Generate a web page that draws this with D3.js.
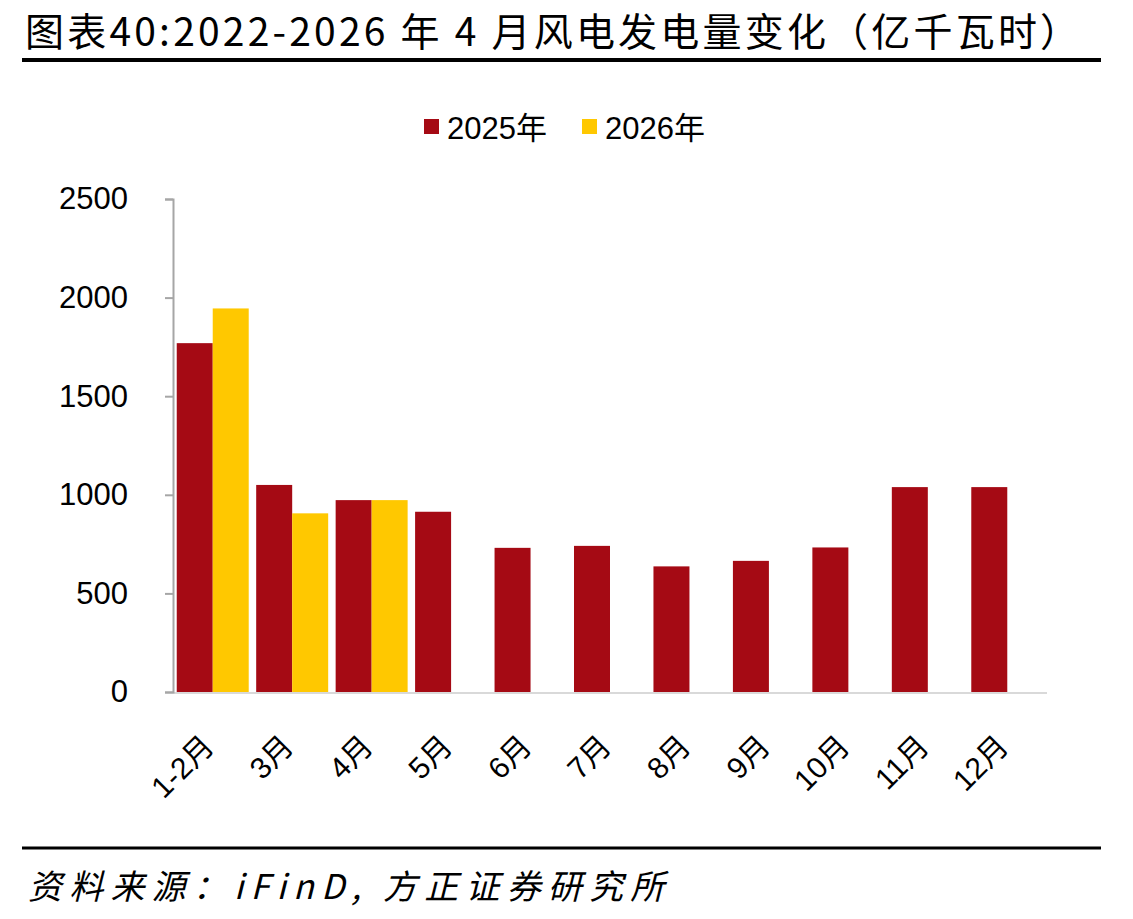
<!DOCTYPE html>
<html>
<head>
<meta charset="utf-8">
<script src="https://cdn.jsdelivr.net/npm/d3@7"></script>
<style>
  html, body { margin: 0; padding: 0; background: #fff; }
  svg { display: block; }
</style>
</head>
<body>
<svg id="chart" width="1133" height="919"></svg>
<script>
const titleText = "图表40:2022-2026 年 4 月风电发电量变化（亿千瓦时）";
const sourceText = "资料来源：iFinD, 方正证券研究所";
const categories = ["1-2月", "3月", "4月", "5月", "6月", "7月", "8月", "9月", "10月", "11月", "12月"];
const seriesNames = ["2025年", "2026年"];
const values2025 = [1769, 1050, 973, 914, 731, 741, 637, 665, 733, 1039, 1039];
const values2026 = [1945, 906, 973, null, null, null, null, null, null, null, null];
const yTicks = [0, 500, 1000, 1500, 2000, 2500];
const colors = ["#A50A14", "#FFC800"];

const svg = d3.select("#chart");

// Title
svg.append("text")
  .attr("x", 25).attr("y", 46)
  .attr("font-family", "'Noto Sans CJK SC', sans-serif")
  .attr("font-size", 39).attr("font-weight", 400)
  .attr("letter-spacing", 3.2)
  .attr("fill", "#000")
  .text(titleText);
svg.append("line")
  .attr("x1", 22).attr("x2", 1101).attr("y1", 60).attr("y2", 60)
  .attr("stroke", "#000").attr("stroke-width", 4);

// Footer
svg.append("line")
  .attr("x1", 22).attr("x2", 1101).attr("y1", 848).attr("y2", 848)
  .attr("stroke", "#000").attr("stroke-width", 3);
svg.append("text")
  .attr("x", 28).attr("y", 899)
  .attr("font-family", "'Noto Sans CJK SC', sans-serif")
  .attr("font-size", 34).attr("font-style", "italic")
  .attr("letter-spacing", 7.2)
  .attr("fill", "#000")
  .text(sourceText);

// Scales
const x0 = d3.scaleBand().domain(categories).range([173, 1047]).paddingInner(0.094).paddingOuter(0.047);
const x1 = d3.scaleBand().domain(seriesNames).range([0, x0.bandwidth()]).padding(0);
const y = d3.scaleLinear().domain([0, 2500]).range([692, 199]);

const data = categories.map((c, i) => ({ cat: c, vals: [values2025[i], values2026[i]] }));

// Bars
const groups = svg.append("g").selectAll("g").data(data).join("g")
  .attr("transform", d => `translate(${x0(d.cat)},0)`);
groups.selectAll("rect")
  .data(d => d.vals.map((v, j) => ({ name: seriesNames[j], v, j })).filter(e => e.v != null))
  .join("rect")
  .attr("x", e => x1(e.name))
  .attr("width", x1.bandwidth())
  .attr("y", e => y(e.v))
  .attr("height", e => y(0) - y(e.v))
  .attr("fill", e => colors[e.j]);

// X axis line
svg.append("line")
  .attr("x1", 173).attr("x2", 1047).attr("y1", y(0) + 1).attr("y2", y(0) + 1)
  .attr("stroke", "#d9d9d9").attr("stroke-width", 2);

// Y axis
const yAxis = d3.axisLeft(y).tickValues(yTicks).tickSize(8).tickPadding(37).tickFormat(d3.format("d"));
const yg = svg.append("g").attr("transform", "translate(173,0)").call(yAxis);
yg.select(".domain").attr("stroke", "#a6a6a6").attr("stroke-width", 2);
yg.selectAll(".tick line").attr("stroke", "#a6a6a6").attr("stroke-width", 2);
yg.selectAll(".tick text")
  .attr("font-family", "'Liberation Sans', Arial, sans-serif")
  .attr("font-size", 31).attr("fill", "#000");

// X labels
svg.append("g").selectAll("text").data(categories).join("text")
  .attr("transform", d => `translate(${x0(d) + x0.bandwidth() / 2 + 3},748) rotate(-45)`)
  .attr("text-anchor", "end")
  .attr("font-family", "'Liberation Sans', 'Noto Sans CJK SC', sans-serif")
  .attr("font-size", 30).attr("fill", "#000")
  .text(d => d);

// Legend
const legend = svg.append("g");
const legendX = [424, 582];
seriesNames.forEach((n, i) => {
  legend.append("rect")
    .attr("x", legendX[i]).attr("y", 119).attr("width", 15).attr("height", 15)
    .attr("fill", colors[i]);
  legend.append("text")
    .attr("x", legendX[i] + 23).attr("y", 139)
    .attr("font-family", "'Liberation Sans', 'Noto Sans CJK SC', sans-serif")
    .attr("font-size", 31).attr("fill", "#000")
    .text(n);
});
</script>
</body>
</html>
